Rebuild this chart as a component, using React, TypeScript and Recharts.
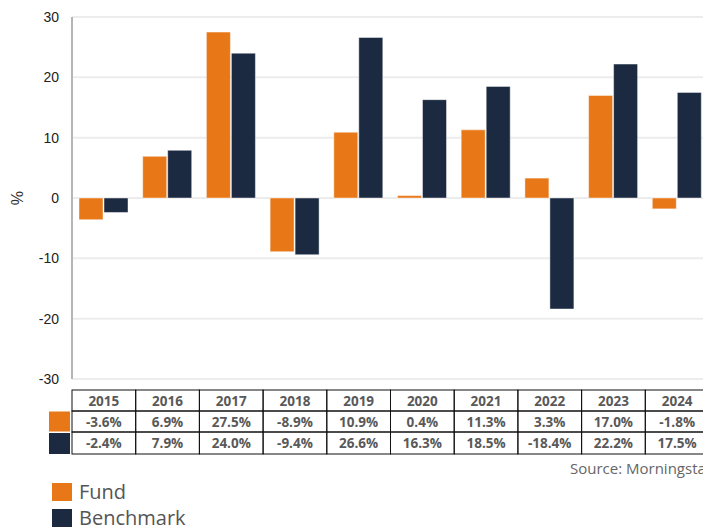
import React from "react";
import { Bar, BarChart, CartesianGrid, XAxis, YAxis } from "recharts";

// Calendar year returns
const years = ["2015", "2016", "2017", "2018", "2019", "2020", "2021", "2022", "2023", "2024"];
const fund = [-3.6, 6.9, 27.5, -8.9, 10.9, 0.4, 11.3, 3.3, 17.0, -1.8];
const benchmark = [-2.4, 7.9, 24.0, -9.4, 26.6, 16.3, 18.5, -18.4, 22.2, 17.5];
const yTicks = [-30, -20, -10, 0, 10, 20, 30];

const series = [
  { key: "fund", name: "Fund", color: "#E87817" },
  { key: "benchmark", name: "Benchmark", color: "#1B2A40" },
];

const data = years.map((year, i) => ({ year, fund: fund[i], benchmark: benchmark[i] }));

const CHART_W = 720;
const PLOT_LEFT = 72;
const PLOT_RIGHT = 709;
const COL_W = (PLOT_RIGHT - PLOT_LEFT) / years.length;
const TABLE_TOP = 390;
const ROWS = [21, 21, 22];

const fmt = (v: number) => `${v.toFixed(1)}%`;

const TableTick = (props: any) => {
  const { x, payload, index } = props;
  const i = payload.index ?? index;
  const left = x - COL_W / 2;
  const texts = [years[i], fmt(fund[i]), fmt(benchmark[i])];
  let top = TABLE_TOP;
  return (
    <g>
      {i === 0 &&
        series.map((s, r) => {
          const y = TABLE_TOP + ROWS[0] + (r === 0 ? 0 : ROWS[1]);
          return (
            <rect key={s.key} x={left - 23} y={y + (r === 0 ? 0.5 : 1)} width={21} height={ROWS[r + 1] - 1} fill={s.color} />
          );
        })}
      {texts.map((t, r) => {
        const h = ROWS[r];
        const y0 = top;
        top += h;
        return (
          <g key={r}>
            <rect x={left} y={y0} width={COL_W} height={h} fill="none" stroke="#111" strokeWidth={1} />
            <text
              x={x}
              y={y0 + h / 2 + 5}
              textAnchor="middle"
              fontFamily="'Open Sans', sans-serif"
              fontWeight={700}
              fontSize={13.5}
              fill="#595959"
            >
              {t}
            </text>
          </g>
        );
      })}
    </g>
  );
};

const App: React.FC = () => {
  return (
    <div
      style={{
        position: "absolute",
        left: 0,
        top: 0,
        width: 703,
        height: 529,
        overflow: "hidden",
        background: "#fff",
      }}
    >
      <BarChart
        width={CHART_W}
        height={455}
        data={data}
        margin={{ top: 17, right: CHART_W - PLOT_RIGHT, left: 0, bottom: 0 }}
        barGap={1}
        barSize={24}
      >
        <CartesianGrid vertical={false} stroke="#ececec" strokeWidth={2} />
        <XAxis
          dataKey="year"
          axisLine={false}
          tickLine={false}
          height={76}
          interval={0}
          tick={<TableTick />}
        />
        <YAxis
          width={PLOT_LEFT}
          domain={[-30, 30]}
          ticks={yTicks}
          axisLine={{ stroke: "#b5b5b5", strokeWidth: 2 }}
          tickLine={false}
          tickMargin={7}
          tick={{ fontFamily: "'Liberation Sans', Arial, sans-serif", fontSize: 14, fill: "#222" }}
          label={{
            value: "%",
            angle: -90,
            position: "insideLeft",
            dx: 12,
            style: { fontFamily: "'Liberation Sans', Arial, sans-serif", fontSize: 16, fill: "#333", textAnchor: "middle" },
          }}
        />
        {series.map((s) => (
          <Bar
            key={s.key}
            dataKey={s.key}
            name={s.name}
            fill={s.color}
            stroke="#ffffff"
            strokeOpacity={0.45}
            strokeWidth={1}
            isAnimationActive={false}
          />
        ))}
      </BarChart>
      <div
        style={{
          position: "absolute",
          left: 570,
          top: 458,
          fontFamily: "'Open Sans', sans-serif",
          fontSize: 15,
          color: "#666",
          whiteSpace: "nowrap",
        }}
      >
        Source: Morningstar
      </div>
      <div style={{ position: "absolute", left: 52, top: 479 }}>
        {series.map((s) => (
          <div key={s.key} style={{ display: "flex", alignItems: "center", height: 26 }}>
            <span style={{ display: "inline-block", width: 20, height: 18, background: s.color, marginRight: 7 }} />
            <span
              style={{
                fontFamily: "'Open Sans', sans-serif",
                fontSize: 20,
                color: "#555",
                lineHeight: "26px",
              }}
            >
              {s.name}
            </span>
          </div>
        ))}
      </div>
    </div>
  );
};

export default App;
